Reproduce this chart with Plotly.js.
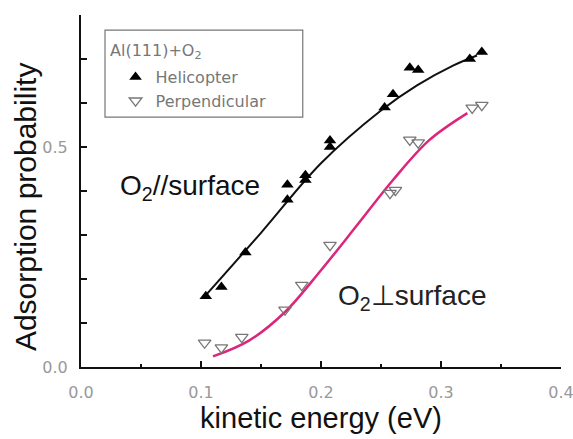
<!DOCTYPE html>
<html>
<head>
<meta charset="utf-8">
<script src="https://cdn.plot.ly/plotly-3.0.1.min.js"></script>
<style>html,body{margin:0;padding:0;background:#fff}#chart{width:573px;height:439px}</style>
</head>
<body>
<div id="chart"></div>
<script>
// Measured points
const heliE = [0.104, 0.117, 0.137, 0.172, 0.172, 0.187, 0.187, 0.2075, 0.2075, 0.253, 0.26, 0.274, 0.281, 0.324, 0.334];
const heliP = [0.161, 0.182, 0.26, 0.414, 0.38, 0.436, 0.425, 0.515, 0.50, 0.59, 0.62, 0.68, 0.675, 0.70, 0.716];
const perpE = [0.103, 0.117, 0.134, 0.17, 0.184, 0.2075, 0.2575, 0.262, 0.274, 0.281, 0.326, 0.334];
const perpP = [0.055, 0.044, 0.068, 0.13, 0.186, 0.277, 0.395, 0.402, 0.516, 0.51, 0.589, 0.595];
// Fit curves
const heliFitE = [0.102, 0.15, 0.2, 0.25, 0.28, 0.31, 0.33];
const heliFitP = [0.157, 0.305, 0.463, 0.583, 0.64, 0.685, 0.708];
const perpFitE = [0.11, 0.14, 0.17, 0.2, 0.23, 0.26, 0.29, 0.322];
const perpFitP = [0.024, 0.06, 0.125, 0.22, 0.322, 0.425, 0.515, 0.577];
const seriesNames = ['Helicopter', 'Perpendicular'];
const yTickVals = [0, 0.1, 0.2, 0.3, 0.4, 0.5, 0.6, 0.7, 0.8];
const yTickText = ['0.0', '', '', '', '', '0.5', '', '', ''];
const legendTitle = 'Al(111)+O<sub>2</sub>';
const labelPar = 'O<sub>2</sub>//surface';
const labelPerp = 'O<sub>2</sub>\u22A5surface';
const xTitle = 'kinetic energy (eV)';
const yTitle = 'Adsorption probability';

const font = 'Liberation Sans, Arial, sans-serif';
const lfont = 'DejaVu Sans, sans-serif';
const traces = [
  {x: heliFitE, y: heliFitP, mode: 'lines', line: {color: '#111', width: 2, shape: 'spline'}, showlegend: false, hoverinfo: 'skip'},
  {x: perpFitE, y: perpFitP, mode: 'lines', line: {color: '#dc267c', width: 2.5, shape: 'spline'}, showlegend: false, hoverinfo: 'skip'},
  {x: heliE, y: heliP, mode: 'markers', name: seriesNames[0], marker: {symbol: 'triangle-up', size: 11, color: '#000'}},
  {x: perpE, y: perpP, mode: 'markers', name: seriesNames[1], marker: {symbol: 'triangle-down-open', size: 11, color: '#777', line: {width: 1.3}}}
];
const layout = {
  width: 573, height: 439,
  margin: {l: 81, r: 12, t: 15, b: 72},
  paper_bgcolor: '#fff', plot_bgcolor: '#fff',
  font: {family: font},
  showlegend: true,
  legend: {
    x: 0.072, y: 0.872, xanchor: 'left', yanchor: 'top',
    bgcolor: 'rgba(0,0,0,0)', borderwidth: 0,
    font: {size: 16, color: '#777', family: lfont},
    tracegroupgap: 0
  },
  xaxis: {
    range: [0, 0.4], dtick: 0.1, tickformat: '.1f',
    showgrid: false, zeroline: false,
    showline: true, linecolor: '#111', linewidth: 2,
    ticks: 'inside', ticklen: 6, tickwidth: 2, tickcolor: '#111',
    minor: {dtick: 0.05, ticks: 'inside', ticklen: 3, tickwidth: 2, tickcolor: '#111', showgrid: false},
    tickfont: {size: 16, color: '#999', family: lfont},
    ticklabelstandoff: 10, ticklabeloverflow: 'allow',
    title: {text: xTitle, font: {size: 29, color: '#111'}, standoff: 4}
  },
  yaxis: {
    range: [0, 0.8], tickmode: 'array', tickvals: yTickVals, ticktext: yTickText,
    showgrid: false, zeroline: false,
    showline: true, linecolor: '#111', linewidth: 2,
    ticks: 'inside', ticklen: 6, tickwidth: 2, tickcolor: '#111',
    tickfont: {size: 16, color: '#999', family: lfont},
    ticklabelstandoff: 8
  },
  shapes: [
    {type: 'rect', xref: 'paper', yref: 'paper', x0: 0.05, x1: 0.462, y0: 0.71, y1: 0.957, line: {color: '#777', width: 1.2}, fillcolor: 'rgba(0,0,0,0)'}
  ],
  annotations: [
    {x: 0.056, y: 0.895, xref: 'paper', yref: 'paper', xanchor: 'left', yanchor: 'middle', text: legendTitle, showarrow: false, font: {size: 16, color: '#777', family: lfont}},
    {x: 0.0908, y: 0.409, xref: 'x', yref: 'y', text: labelPar, showarrow: false, font: {size: 28, color: '#111'}},
    {x: 0.276, y: 0.159, xref: 'x', yref: 'y', text: labelPerp, showarrow: false, font: {size: 28, color: '#222'}},
    {x: -0.1167, y: 0.457, xref: 'paper', yref: 'paper', xanchor: 'center', yanchor: 'middle', textangle: -90, text: yTitle, showarrow: false, font: {size: 30, color: '#111'}}
  ]
};
Plotly.newPlot('chart', traces, layout, {displayModeBar: false, staticPlot: true});
</script>
</body>
</html>
